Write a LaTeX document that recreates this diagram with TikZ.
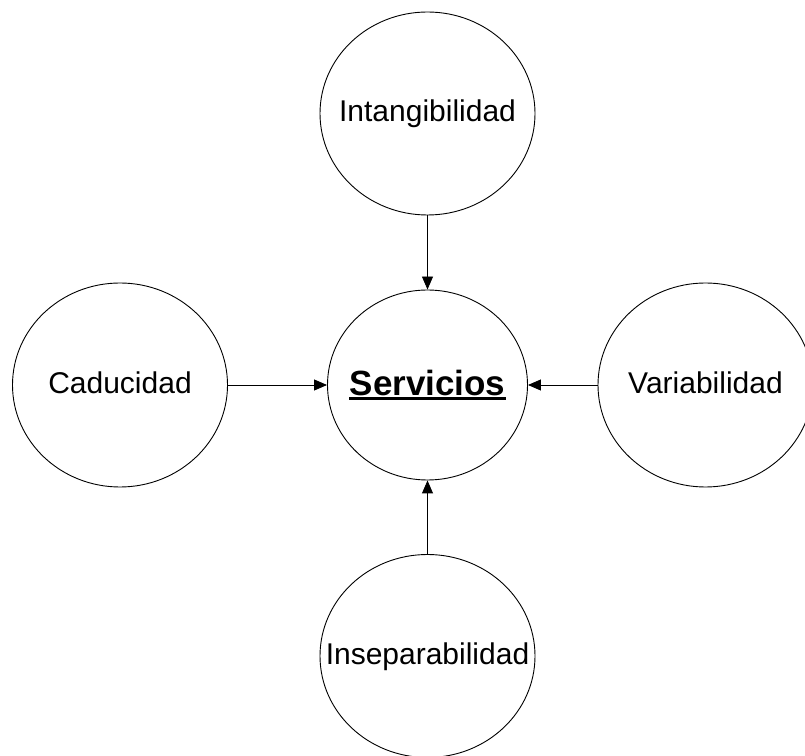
\documentclass[tikz,border=0pt]{standalone}
\usepackage{fontspec}
\setmainfont{Liberation Sans}
\usetikzlibrary{shapes.geometric,arrows.meta}
\begin{document}
\begin{tikzpicture}[x=1pt,y=1pt,
  bubble/.style={ellipse, draw, line width=0.9pt, minimum width=215pt, minimum height=203pt, inner sep=0pt},
  core/.style={bubble, minimum width=200pt, minimum height=190pt},
  tag/.style={font=\fontsize{30}{36}\selectfont, anchor=base, inner sep=0pt},
  link/.style={line width=0.9pt, -{Triangle[length=13pt,width=11pt]}}]
\useasboundingbox (0,0) rectangle (805,755);
\clip (0,0) rectangle (805,755);

% the five circles
\node[core] (serv) at (427.5,370) {};
\node[bubble] (intang) at (427.5,641.5) {};
\node[bubble, minimum height=204pt] (caduc) at (120,370) {};
\node[bubble, minimum height=204pt] (varia) at (705.5,370) {};
\node[bubble] (insep) at (427.5,99) {};

% labels
\node[tag] (intang-t) at ([yshift=-8.5pt]intang.center) {Intangibilidad};
\node[tag] (caduc-t) at ([yshift=-8.5pt]caduc.center) {Caducidad};
\node[tag] (varia-t) at ([yshift=-8.5pt]varia.center) {Variabilidad};
\node[tag] (insep-t) at ([yshift=-8.5pt]insep.center) {Inseparabilidad};
\node[tag, font=\bfseries\fontsize{35}{42}\selectfont] (serv-t) at ([yshift=-11pt]serv.center) {Servicios};
\draw[line width=2.6pt] ([yshift=-2.6pt]serv-t.base west) -- ([yshift=-2.6pt]serv-t.base east);

% connectors into the centre
\draw[link] (intang) -- (serv);
\draw[link] (caduc) -- (serv);
\draw[link] (varia) -- (serv);
\draw[link] (insep) -- (serv);
\end{tikzpicture}
\end{document}
